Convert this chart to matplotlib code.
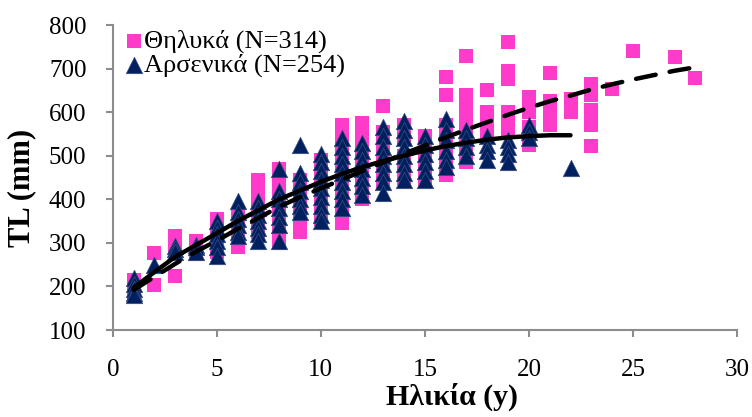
import matplotlib
matplotlib.use("Agg")
import matplotlib.pyplot as plt

plt.rcParams['font.family'] = ['Liberation Serif', 'DejaVu Serif']

# Female (Θηλυκά) observations: age -> list of TL (mm)
female = {
    1: [215, 200, 190, 185],
    2: [277, 203],
    3: [315, 305, 290, 225],
    4: [305, 295, 285, 275],
    5: [355, 340, 320, 300, 285, 280],
    6: [365, 345, 330, 310, 290],
    7: [445, 430, 415, 400, 380, 360, 345, 325],
    8: [470, 440, 420, 400, 380, 360, 340, 320, 300],
    9: [445, 420, 400, 380, 360, 340, 325],
    10: [490, 470, 450, 430, 410, 390, 370, 355],
    11: [570, 545, 520, 500, 480, 460, 440, 420, 400, 380, 360, 345],
    12: [575, 550, 530, 510, 490, 470, 450, 430, 415, 400],
    13: [615, 555, 530, 505, 480, 460, 440],
    14: [570, 540, 500, 470, 450],
    15: [545, 520, 495, 470, 445],
    16: [680, 640, 570, 545, 520, 495, 470, 455],
    17: [730, 640, 620, 600, 580, 560, 540, 520, 500, 485],
    18: [650, 600, 580, 555],
    19: [760, 695, 675, 600, 580, 555],
    20: [635, 615, 600, 565, 545, 525],
    21: [690, 625, 605, 590, 570],
    22: [630, 615, 600],
    23: [665, 640, 605, 585, 570, 522],
    24: [653],
    25: [740],
    27: [727],
    28: [678],
}

# Male (Αρσενικά) observations
male = {
    1: [220, 205, 195, 185, 180],
    2: [249],
    3: [293, 285, 278],
    4: [295, 290, 280],
    5: [350, 335, 320, 305, 290, 270],
    6: [395, 370, 355, 340, 325, 315],
    7: [395, 380, 365, 350, 335, 320, 305],
    8: [470, 420, 400, 380, 360, 340, 305],
    9: [525, 460, 440, 420, 400, 385, 370],
    10: [505, 485, 465, 445, 425, 405, 385, 365, 350],
    11: [540, 520, 500, 480, 460, 440, 420, 400, 380],
    12: [530, 510, 490, 470, 450, 430, 410],
    13: [565, 545, 520, 500, 480, 460, 440, 415],
    14: [580, 560, 540, 520, 500, 480, 460, 445],
    15: [545, 525, 505, 485, 465, 445],
    16: [585, 560, 535, 510, 490, 475],
    17: [560, 540, 520, 500],
    18: [545, 525, 510, 490],
    19: [535, 520, 505, 485],
    20: [570, 555, 540],
    22: [472],
}

# Fitted growth curves
fit_f_age = [1, 2, 3, 4, 5, 6, 7, 8, 9, 10, 11, 12, 13, 14, 15, 16, 17, 18, 19, 20,
             21, 22, 23, 24, 25, 26, 27, 28]
fit_f_tl = [192, 222, 252, 280, 305, 332, 357, 383, 405, 425, 445, 465, 485, 505, 523,
            542, 560, 577, 594, 610, 625, 638, 652, 664, 675, 685, 695, 703]
fit_m_age = [1, 2, 3, 4, 5, 6, 7, 8, 9, 10, 11, 12, 13, 14, 15, 16, 17, 18, 19, 20, 21, 22]
fit_m_tl = [197, 233, 268, 295, 322, 350, 375, 400, 420, 440, 458, 474, 488, 500, 512,
            522, 530, 537, 542, 545, 547, 547]

label_f = "Θηλυκά (N=314)"
label_m = "Αρσενικά (N=254)"
xlabel = "Ηλικία (y)"
ylabel = "TL (mm)"

pink = "#FF3BCB"
navy = "#002060"

fig = plt.figure(figsize=(7.52, 4.17), dpi=100)
ax = fig.add_axes([0.150, 0.2086, 0.830, 0.7314])

fx = [a for a, v in female.items() for _ in v]
fy = [t for a, v in female.items() for t in v]
mx = [a for a, v in male.items() for _ in v]
my = [t for a, v in male.items() for t in v]

ax.scatter(fx, fy, marker='s', s=100, color=pink, linewidths=0, label=label_f, zorder=2)
ax.scatter(mx, my, marker='^', s=140, color=navy, linewidths=0.5, edgecolors='#3a4f80',
           label=label_m, zorder=3)
ax.plot(fit_f_age, fit_f_tl, color='black', lw=3.2, ls=(0, (4.5, 3.2)),
        solid_capstyle='round', dash_capstyle='round', zorder=4)
ax.plot(fit_m_age, fit_m_tl, color='black', lw=3.2, solid_capstyle='round', zorder=4)

ax.set_xlim(0, 30)
ax.set_ylim(100, 800)
ax.set_xticks(range(0, 31, 5))
ax.set_yticks(range(100, 801, 100))
for s in ['top', 'right']:
    ax.spines[s].set_visible(False)
for s in ['left', 'bottom']:
    ax.spines[s].set_color('#8c8c8c')
    ax.spines[s].set_linewidth(1.5)
ax.tick_params(axis='both', which='major', direction='out', length=5, width=1.5,
               color='#8c8c8c', labelsize=18, labelcolor='black')
ax.tick_params(axis='y', pad=14)
ax.tick_params(axis='x', pad=16)
ax.set_xlabel(xlabel, fontsize=21.5, fontweight='bold')
ax.set_ylabel(ylabel, fontsize=22, fontweight='bold')
ax.xaxis.set_label_coords(0.543, -0.172)
ax.yaxis.set_label_coords(-0.122, 0.466)

leg = ax.legend(loc='upper left', bbox_to_anchor=(0.0, 1.02), frameon=False,
                fontsize=19, handletextpad=0.0, borderaxespad=0.0, labelspacing=0.0,
                handlelength=0.8, markerscale=1.0)

fig.savefig("out.png", dpi=100)
